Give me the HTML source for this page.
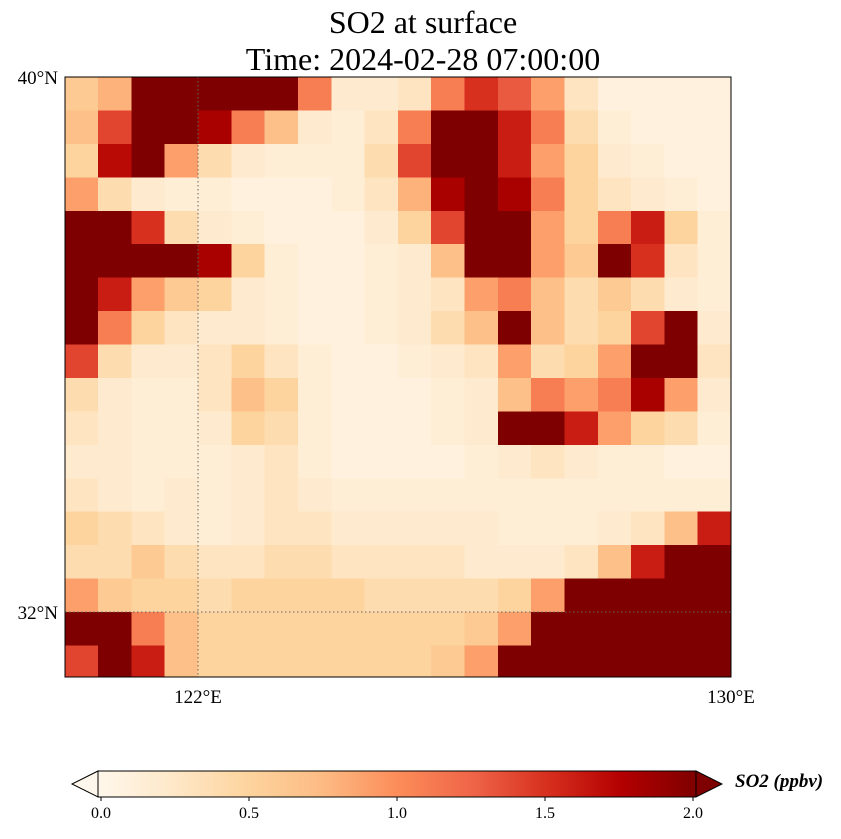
<!DOCTYPE html>
<html><head><meta charset="utf-8">
<style>
html,body{margin:0;padding:0;background:#fff;}
svg{display:block;font-family:"Liberation Serif",serif;}
</style></head>
<body>
<svg id="chart" width="841" height="839" viewBox="0 0 841 839" xmlns="http://www.w3.org/2000/svg">
  <defs>
    <linearGradient id="cmap" x1="0" x2="1" y1="0" y2="0">
      <stop offset="0" stop-color="#fff7ec"/>
      <stop offset="0.125" stop-color="#fee8c8"/>
      <stop offset="0.25" stop-color="#fdd49e"/>
      <stop offset="0.375" stop-color="#fdbb84"/>
      <stop offset="0.5" stop-color="#fc8d59"/>
      <stop offset="0.625" stop-color="#ef6548"/>
      <stop offset="0.75" stop-color="#d7301f"/>
      <stop offset="0.875" stop-color="#b30000"/>
      <stop offset="1" stop-color="#7f0000"/>
    </linearGradient>
    <clipPath id="mapclip"><rect x="65" y="77" width="666" height="600"/></clipPath>
  </defs>
  <text x="423" y="33" font-size="32" text-anchor="middle">SO2 at surface</text>
  <text x="423" y="70" font-size="32" text-anchor="middle">Time: 2024-02-28 07:00:00</text>
  <g id="cells" clip-path="url(#mapclip)" shape-rendering="crispEdges"></g>
  <g stroke="#666" stroke-width="1" stroke-dasharray="1.5,2.5">
    <line x1="198" y1="77" x2="198" y2="677"/>
    <line x1="65" y1="612" x2="731" y2="612"/>
  </g>
  <rect x="65" y="77" width="666" height="600" fill="none" stroke="#000" stroke-width="1"/>
  <g font-size="19">
    <text x="58" y="84" text-anchor="end">40°N</text>
    <text x="58" y="619" text-anchor="end">32°N</text>
    <text x="198" y="703" text-anchor="middle">122°E</text>
    <text x="731" y="703" text-anchor="middle">130°E</text>
  </g>
  <g>
    <polygon points="98,771 72,784 98,797" fill="#fff7ec" stroke="#000" stroke-width="1"/>
    <polygon points="696,771 722,784 696,797" fill="#7f0000" stroke="#000" stroke-width="1"/>
    <rect x="98" y="771" width="598" height="26" fill="url(#cmap)" stroke="#000" stroke-width="1"/>
    <g id="cbticks" font-size="16"></g>
    <text x="735" y="787" font-size="19" font-weight="bold" font-style="italic">SO2 (ppbv)</text>
  </g>
</svg>
<script>
const lonStart = 120, lonStep = 0.5, latStart = 40, latStep = 0.5;
const vmin = 0, vmax = 2;
const cbTicks = [0.0, 0.5, 1.0, 1.5, 2.0];
const cbTickLabels = ["0.0", "0.5", "1.0", "1.5", "2.0"];
const row0  = [.6,.8,2,2,2,2,2,1.1,.2,.2,.3,1.1,1.5,1.3,.9,.3,.1,.1,.1,.1];
const row1  = [.7,1.4,2,2,1.8,1.1,.7,.2,.15,.3,1.1,2,2,1.6,1.1,.4,.15,.1,.1,.1];
const row2  = [.5,1.7,2,.9,.4,.2,.15,.15,.15,.4,1.4,2,2,1.6,.9,.5,.2,.15,.1,.1];
const row3  = [.9,.4,.2,.15,.15,.1,.1,.1,.15,.3,.8,1.8,2,1.8,1.1,.5,.3,.2,.15,.1];
const row4  = [2,2,1.5,.4,.2,.15,.1,.1,.1,.2,.5,1.4,2,2,.9,.5,1.1,1.6,.5,.15];
const row5  = [2,2,2,2,1.8,.5,.15,.1,.1,.15,.2,.7,2,2,.9,.6,2,1.5,.3,.15];
const row6  = [2,1.6,.9,.6,.5,.2,.15,.1,.1,.15,.2,.3,.9,1.1,.7,.4,.6,.4,.2,.15];
const row7  = [2,1.1,.5,.3,.2,.2,.15,.1,.1,.15,.2,.4,.7,2,.7,.4,.5,1.4,2,.2];
const row8  = [1.4,.4,.2,.2,.3,.5,.3,.15,.1,.1,.15,.2,.3,.9,.4,.5,.9,2,2,.3];
const row9  = [.4,.2,.15,.15,.3,.7,.5,.15,.1,.1,.1,.15,.2,.7,1.1,.9,1.1,1.8,.9,.2];
const row10 = [.3,.2,.15,.15,.2,.5,.4,.15,.1,.1,.1,.15,.2,2,2,1.6,.9,.5,.4,.15];
const row11 = [.2,.2,.15,.15,.15,.2,.3,.15,.1,.1,.1,.1,.15,.2,.3,.2,.15,.15,.1,.1];
const row12 = [.3,.2,.15,.2,.15,.2,.3,.2,.15,.15,.15,.15,.15,.15,.15,.15,.15,.15,.15,.15];
const row13 = [.5,.4,.3,.2,.15,.2,.3,.3,.2,.2,.2,.2,.2,.15,.15,.15,.2,.3,.7,1.6];
const row14 = [.4,.4,.6,.4,.3,.3,.4,.4,.3,.3,.3,.3,.2,.2,.2,.3,.7,1.6,2,2];
const row15 = [.9,.6,.5,.5,.4,.5,.5,.5,.5,.4,.4,.4,.4,.5,.9,2,2,2,2,2];
const row16 = [2,2,1.1,.7,.5,.5,.5,.5,.5,.5,.5,.5,.6,.9,2,2,2,2,2,2];
const row17 = [1.4,2,1.6,.7,.5,.5,.5,.5,.5,.5,.5,.6,.9,2,2,2,2,2,2,2];
const grid = [row0,row1,row2,row3,row4,row5,row6,row7,row8,row9,row10,row11,row12,row13,row14,row15,row16,row17];

const NS = "http://www.w3.org/2000/svg";
function xOfLon(lon){ return 198 + (lon - 122) * (731 - 198) / 8; }
function yOfLat(lat){ return 77 + (40 - lat) * (612 - 77) / 8; }
function cbX(v){ return 101 + (v - vmin) / (vmax - vmin) * (693 - 101); }
const stops = ["#fff7ec","#fee8c8","#fdd49e","#fdbb84","#fc8d59","#ef6548","#d7301f","#b30000","#7f0000"];
function hex(c){ return [1,3,5].map(i => parseInt(c.substr(i,2),16)); }
function color(v){
  let t = Math.max(0, Math.min(1, (v - vmin) / (vmax - vmin))) * 8;
  let i = Math.min(7, Math.floor(t)), f = t - i;
  const a = hex(stops[i]), b = hex(stops[i+1]);
  return "rgb(" + a.map((x,k) => Math.round(x + (b[k]-x)*f)).join(",") + ")";
}
const cells = document.getElementById("cells");
grid.forEach((row, j) => {
  row.forEach((v, i) => {
    const x0 = xOfLon(lonStart + i*lonStep), x1 = xOfLon(lonStart + (i+1)*lonStep);
    const y0 = yOfLat(latStart - j*latStep), y1 = yOfLat(latStart - (j+1)*latStep);
    const r = document.createElementNS(NS, "rect");
    r.setAttribute("x", x0); r.setAttribute("y", y0);
    r.setAttribute("width", x1 - x0 + 0.5); r.setAttribute("height", y1 - y0 + 0.5);
    r.setAttribute("fill", color(v));
    
    
    cells.appendChild(r);
  });
});
const cbt = document.getElementById("cbticks");
cbTicks.forEach((v, k) => {
  const x = cbX(v);
  const l = document.createElementNS(NS, "line");
  l.setAttribute("x1", x); l.setAttribute("x2", x);
  l.setAttribute("y1", 797); l.setAttribute("y2", 801);
  l.setAttribute("stroke", "#000");
  
  
  cbt.appendChild(l);
  const t = document.createElementNS(NS, "text");
  t.setAttribute("x", x); t.setAttribute("y", 818);
  t.setAttribute("text-anchor", "middle");
  t.textContent = cbTickLabels[k];
  
  
  cbt.appendChild(t);
});
</script>
</body></html>
